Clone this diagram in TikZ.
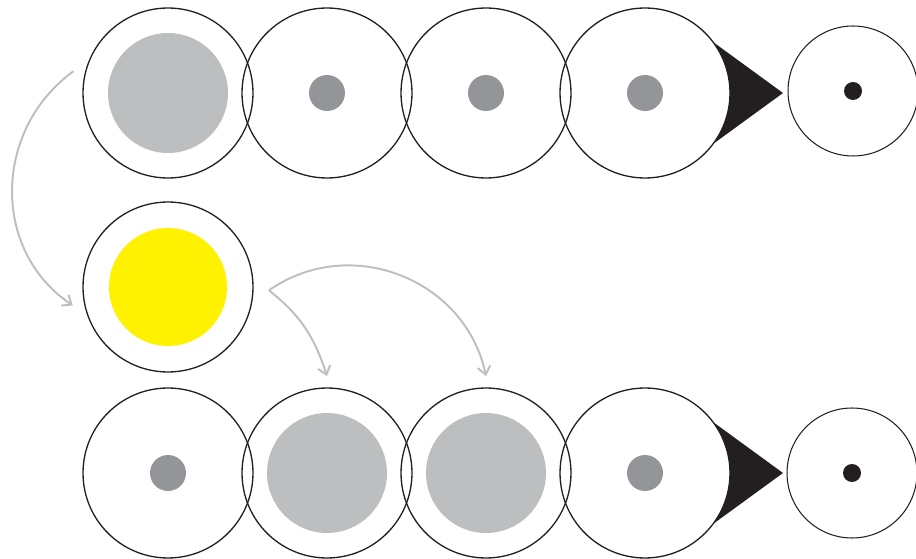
\documentclass[tikz,border=0pt]{standalone}
\usepackage{tikz}
\usetikzlibrary{arrows.meta, calc}
\definecolor{mygray}{RGB}{188, 190, 192}
\definecolor{mydarkgray}{RGB}{147, 149, 152}
\definecolor{myblack}{RGB}{35, 31, 32}
\definecolor{myyellow}{RGB}{255, 242, 0}

\begin{document}
\begin{tikzpicture}[x=0.02cm, y=0.02cm,
        ring/.style={circle, draw=myblack, line width=0.75pt, minimum size=3.4cm, inner sep=0pt, outer sep=0.24cm},
        endring/.style={circle, draw=myblack, line width=0.6pt, minimum size=2.6cm, inner sep=0pt},
        bigdot/.style={circle, fill=mygray, minimum size=2.4cm, inner sep=0pt},
        smalldot/.style={circle, fill=mydarkgray, minimum size=0.72cm, inner sep=0pt},
        pin/.style={circle, fill=myblack, minimum size=0.36cm, inner sep=0pt},
        sun/.style={circle, fill=myyellow, minimum size=2.36cm, inner sep=0pt},
        flow/.style={draw=mygray, line width=1.1pt, -{Straight Barb[length=1.6mm, width=2.6mm]}}]

                \useasboundingbox (0,0) rectangle (916,558);

                % --- Top row ---
                \node[ring] (t1) at (168,465) {};
                \node[ring] (t2) at (327,465) {};
                \node[ring] (t3) at (486,465) {};
                \node[ring] (t4) at (645,465) {};
                \node[bigdot] (t1dot) at (t1.center) {};
                \node[smalldot] (t2dot) at (t2.center) {};
                \node[smalldot] (t3dot) at (t3.center) {};
                \node[smalldot] (t4dot) at (t4.center) {};

                % Grot przy ostatnim kole
                \fill[myblack] ($(t4.center)+(36.87:85)$) -- ($(t4.center)+(138,0)$) -- ($(t4.center)+(-36.87:85)$) arc[start angle=-36.87, end angle=36.87, radius=85] -- cycle;

                % Cel po prawej
                \node[endring] (tend) at (853,467) {};
                \node[pin] (tendpin) at (tend.center) {};

                % --- Middle ---
                \node[ring] (m) at (168,271) {};
                \node[sun] (msun) at (m.center) {};

                % --- Bottom row ---
                \node[ring] (b1) at (168,85) {};
                \node[ring] (b2) at (327,85) {};
                \node[ring] (b3) at (486,85) {};
                \node[ring] (b4) at (645,85) {};
                \node[smalldot] (b1dot) at (b1.center) {};
                \node[bigdot] (b2dot) at (b2.center) {};
                \node[bigdot] (b3dot) at (b3.center) {};
                \node[smalldot] (b4dot) at (b4.center) {};

                \fill[myblack] ($(b4.center)+(36.87:85)$) -- ($(b4.center)+(138,0)$) -- ($(b4.center)+(-36.87:85)$) arc[start angle=-36.87, end angle=36.87, radius=85] -- cycle;

                \node[endring] (bend) at (852,85) {};
                \node[pin] (bendpin) at (bend.center) {};

                % --- Strzałki ---
                \draw[flow] (t1.167) to[out=216, in=146, looseness=1.08] (m.191);
                \draw[flow] ([xshift=0.08cm]m.-2) to[out=-38, in=108] (b2.north);
                \draw[flow] ([xshift=0.08cm]m.-2) to[out=35, in=102, looseness=1.09] (b3.north);

\end{tikzpicture}
\end{document}
